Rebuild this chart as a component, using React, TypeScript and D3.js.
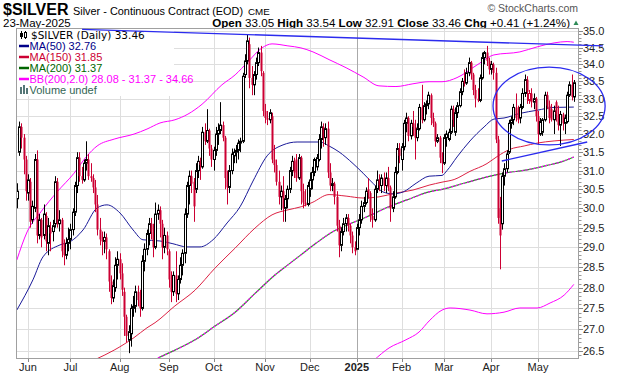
import React from "react";
import * as d3 from "d3";

const SANS = "'Liberation Sans', Arial, Helvetica, sans-serif";
const WIDE = "'DejaVu Sans', Verdana, sans-serif";

// Daily candles: [day, open, high, low, close]
const may2024 = [
  [24, 30.25, 30.66, 30.0, 30.45], [28, 31.5, 32.35, 31.4, 32.2], [29, 32.2, 32.3, 31.6, 31.9],
  [30, 31.9, 32.0, 30.9, 31.3], [31, 31.3, 31.4, 30.2, 30.45],
];
const jun2024 = [
  [3, 30.4, 30.9, 30.2, 30.75], [4, 30.7, 30.8, 29.5, 29.65], [5, 29.7, 30.2, 29.6, 30.05],
  [6, 30.0, 31.45, 29.9, 31.3], [7, 31.3, 31.55, 29.1, 29.3], [10, 29.3, 29.85, 29.2, 29.7],
  [11, 29.7, 29.75, 29.0, 29.25], [12, 29.3, 30.1, 29.2, 29.85], [13, 29.8, 29.9, 28.9, 29.15],
  [14, 29.1, 29.75, 28.8, 29.55], [17, 29.5, 29.65, 28.9, 29.35], [18, 29.4, 29.7, 29.15, 29.55],
  [20, 29.6, 30.85, 29.5, 30.7], [21, 30.7, 30.8, 29.5, 29.6], [24, 29.6, 29.95, 29.4, 29.7],
  [25, 29.7, 29.75, 28.75, 28.9], [26, 28.9, 29.2, 28.55, 28.8], [27, 28.8, 29.25, 28.7, 29.1],
  [28, 29.1, 29.5, 28.9, 29.2],
];
const jul2024 = [
  [1, 29.2, 29.6, 28.95, 29.45], [2, 29.45, 30.0, 29.3, 29.9], [3, 29.9, 30.7, 29.8, 30.6],
  [5, 30.6, 31.5, 30.4, 31.35], [8, 31.35, 31.5, 30.7, 30.85], [9, 30.85, 31.1, 30.65, 30.75],
  [10, 30.75, 31.3, 30.7, 31.2], [11, 31.2, 31.8, 31.0, 31.3], [12, 31.3, 31.45, 30.75, 30.85],
  [15, 30.85, 31.2, 30.7, 30.8], [16, 30.8, 30.9, 30.4, 30.55], [17, 30.55, 30.75, 29.9, 30.1],
  [18, 30.1, 30.35, 29.3, 29.45], [19, 29.45, 29.75, 29.05, 29.2], [22, 29.2, 29.4, 28.8, 29.15],
  [23, 29.15, 29.4, 28.85, 29.25], [24, 29.25, 29.35, 28.7, 28.95], [25, 28.9, 28.95, 27.9, 28.15],
  [26, 28.15, 28.3, 27.6, 27.75], [29, 27.75, 28.2, 27.65, 28.05], [30, 28.0, 28.75, 27.9, 28.55],
  [31, 28.55, 28.9, 28.2, 28.7],
];
const aug2024 = [
  [1, 28.7, 28.85, 28.2, 28.35], [2, 28.35, 28.6, 27.8, 27.95], [5, 27.9, 28.0, 26.85, 27.3],
  [6, 27.3, 27.35, 26.7, 26.85], [7, 26.75, 27.1, 26.45, 26.95], [8, 26.9, 27.6, 26.6, 27.5],
  [9, 27.5, 27.8, 27.3, 27.55], [12, 27.55, 28.05, 27.4, 27.9], [13, 27.9, 28.05, 27.55, 27.7],
  [14, 27.7, 27.95, 27.3, 27.5], [15, 27.5, 28.8, 27.45, 28.65], [16, 28.65, 29.1, 28.4, 28.95],
  [19, 28.95, 29.45, 28.8, 29.35], [20, 29.35, 29.75, 29.05, 29.6], [21, 29.6, 29.75, 29.2, 29.4],
  [22, 29.4, 29.6, 28.75, 29.0], [23, 29.0, 30.15, 28.95, 29.85], [26, 29.85, 30.1, 29.7, 29.95],
  [27, 29.95, 30.05, 29.25, 29.6], [28, 29.6, 29.7, 28.7, 29.0], [29, 29.0, 29.5, 28.85, 29.3],
  [30, 29.3, 29.4, 28.8, 28.95],
];
const sep2024 = [
  [3, 28.9, 28.95, 28.0, 28.2], [4, 28.2, 28.4, 27.65, 27.9], [5, 27.9, 28.4, 27.8, 28.3],
  [6, 28.3, 28.9, 27.65, 27.85], [9, 27.85, 28.3, 27.7, 28.2], [10, 28.2, 28.75, 28.1, 28.55],
  [11, 28.55, 28.95, 28.3, 28.85], [12, 28.85, 30.0, 28.6, 29.85], [13, 29.85, 30.7, 29.75, 30.6],
  [16, 30.6, 31.0, 30.1, 30.85], [17, 30.85, 31.0, 30.4, 30.65], [18, 30.7, 30.8, 29.65, 30.05],
  [19, 30.5, 31.2, 30.4, 31.0], [20, 31.0, 31.4, 30.8, 31.25], [23, 31.25, 31.35, 30.75, 31.15],
  [24, 31.1, 32.2, 31.05, 32.05], [25, 32.05, 32.3, 31.7, 31.8], [26, 31.8, 32.7, 31.75, 32.1],
  [27, 32.1, 32.15, 31.4, 31.6], [30, 31.6, 31.7, 31.1, 31.3],
];
const oct2024 = [
  [1, 31.3, 31.65, 31.0, 31.55], [2, 31.55, 32.2, 31.4, 32.0], [3, 32.0, 32.3, 31.7, 32.1],
  [4, 32.1, 32.9, 32.0, 32.25], [7, 32.25, 32.35, 31.8, 31.9], [8, 31.9, 31.95, 30.5, 30.8],
  [9, 30.8, 31.0, 30.1, 30.55], [10, 30.55, 31.15, 30.4, 31.0], [11, 31.0, 31.6, 30.9, 31.45],
  [14, 31.4, 31.6, 31.2, 31.5], [15, 31.5, 31.7, 31.2, 31.55], [16, 31.55, 31.85, 31.3, 31.75],
  [17, 31.75, 31.9, 31.5, 31.8], [18, 31.8, 33.75, 31.75, 33.65], [21, 33.7, 34.3, 33.6, 34.1],
  [22, 34.1, 34.88, 34.0, 34.7], [23, 34.6, 34.8, 33.3, 33.6], [24, 33.6, 33.95, 33.1, 33.4],
  [25, 33.4, 33.8, 33.1, 33.7], [28, 33.7, 34.2, 33.55, 34.05], [29, 34.05, 34.5, 33.95, 34.35],
  [30, 34.35, 34.55, 33.65, 33.8], [31, 33.75, 33.8, 32.5, 32.65],
];
const nov2024 = [
  [1, 32.65, 32.85, 32.3, 32.45], [4, 32.45, 32.65, 32.25, 32.4], [5, 32.4, 32.7, 32.3, 32.6],
  [6, 32.5, 32.6, 31.2, 31.3], [7, 31.3, 31.7, 30.95, 31.15], [8, 31.15, 31.3, 30.6, 30.7],
  [11, 30.7, 31.0, 30.1, 30.3], [12, 30.3, 30.6, 29.95, 30.45], [13, 30.45, 30.85, 29.65, 30.0],
  [14, 30.0, 30.35, 29.65, 30.25], [15, 30.25, 30.6, 30.0, 30.5], [18, 30.5, 31.1, 30.4, 31.0],
  [19, 31.0, 31.4, 30.85, 31.25], [20, 31.25, 31.35, 30.8, 30.95], [21, 31.3, 31.45, 30.7, 30.8],
  [22, 30.8, 31.45, 30.75, 31.35], [25, 31.35, 31.4, 30.1, 30.45], [26, 30.45, 30.65, 30.0, 30.15],
  [27, 30.15, 30.5, 30.05, 30.1], [29, 30.1, 30.7, 30.05, 30.6],
];
const dec2024 = [
  [2, 30.5, 30.95, 30.3, 30.75], [3, 30.75, 31.1, 30.5, 30.95], [4, 30.95, 31.35, 30.85, 31.3],
  [5, 31.1, 31.45, 31.0, 31.35], [6, 31.3, 32.0, 31.25, 31.85], [9, 31.85, 32.35, 31.6, 32.2],
  [10, 32.2, 32.3, 31.65, 31.9], [11, 31.9, 32.3, 31.7, 32.15], [12, 32.15, 32.35, 30.8, 30.95],
  [13, 30.95, 31.2, 30.45, 30.6], [16, 30.6, 30.8, 30.45, 30.65], [17, 30.65, 30.7, 30.1, 30.3],
  [18, 30.3, 30.45, 29.4, 29.55], [19, 29.55, 29.7, 28.75, 29.05], [20, 29.05, 29.5, 28.9, 29.4],
  [23, 29.4, 29.75, 29.3, 29.6], [24, 29.6, 29.85, 29.4, 29.75], [26, 29.75, 29.85, 29.4, 29.55],
  [27, 29.55, 29.6, 29.1, 29.3], [30, 29.3, 29.4, 28.85, 29.0], [31, 29.0, 29.15, 28.8, 28.9],
];
const jan2025 = [
  [2, 28.95, 29.6, 28.95, 29.5], [3, 29.5, 29.85, 29.3, 29.7], [6, 29.7, 30.2, 29.6, 30.05],
  [7, 30.05, 30.3, 29.9, 30.15], [8, 30.15, 30.55, 30.1, 30.45], [10, 30.5, 30.8, 30.25, 30.4],
  [13, 30.4, 30.45, 29.65, 29.8], [14, 29.8, 30.0, 29.5, 29.7], [15, 29.7, 30.6, 29.65, 30.5],
  [16, 30.5, 31.0, 30.4, 30.75], [17, 30.75, 30.9, 30.45, 30.6], [21, 30.6, 30.9, 30.4, 30.8],
  [22, 30.8, 30.95, 30.45, 30.6], [23, 30.6, 30.95, 30.4, 30.8], [24, 30.8, 31.1, 30.45, 30.55],
  [27, 30.55, 30.6, 29.65, 30.0], [28, 30.0, 30.45, 29.9, 30.3], [29, 30.3, 31.1, 30.25, 30.95],
  [30, 30.95, 31.75, 30.9, 31.6], [31, 31.6, 31.75, 31.2, 31.4],
];
const feb2025 = [
  [3, 31.3, 31.75, 31.0, 31.65], [4, 31.65, 32.4, 31.55, 32.3], [5, 32.3, 32.6, 32.05, 32.45],
  [6, 32.45, 32.5, 31.8, 31.95], [7, 31.95, 32.4, 31.85, 32.3], [10, 32.3, 32.65, 31.95, 32.2],
  [11, 32.2, 32.4, 31.3, 31.9], [12, 31.9, 32.3, 31.8, 32.15], [13, 32.15, 32.85, 32.1, 32.75],
  [14, 32.75, 33.4, 32.3, 32.4], [18, 32.4, 32.9, 32.35, 32.8], [19, 32.8, 32.95, 32.55, 32.85],
  [20, 32.85, 33.2, 32.7, 33.1], [21, 33.1, 33.15, 32.25, 32.45], [24, 32.45, 32.6, 32.2, 32.3],
  [25, 32.3, 32.35, 31.65, 31.8], [26, 31.8, 32.0, 31.75, 31.9], [27, 31.9, 31.95, 31.2, 31.35],
  [28, 31.35, 31.5, 30.93, 31.2],
];
const mar2025 = [
  [3, 31.2, 32.0, 31.15, 31.9], [4, 31.9, 32.1, 31.65, 32.0], [5, 31.85, 32.15, 31.8, 32.05],
  [6, 32.05, 32.8, 32.0, 32.7], [7, 32.7, 32.8, 32.2, 32.4], [10, 32.05, 32.75, 31.95, 32.6],
  [11, 32.6, 32.9, 32.45, 32.8], [12, 32.8, 33.3, 32.75, 33.2], [13, 33.2, 33.6, 33.1, 33.5],
  [14, 33.5, 33.85, 33.35, 33.45], [17, 33.45, 33.9, 33.4, 33.75], [18, 33.75, 34.2, 33.65, 34.05],
  [19, 34.05, 34.1, 33.55, 33.7], [20, 33.7, 33.75, 33.1, 33.25], [21, 33.25, 33.4, 32.75, 33.0],
  [24, 33.0, 33.3, 32.9, 32.95], [25, 32.95, 33.7, 32.9, 33.6], [26, 33.6, 34.35, 33.55, 34.2],
  [27, 34.2, 34.4, 34.0, 34.35], [28, 34.35, 34.55, 33.95, 34.1], [31, 34.1, 34.2, 33.7, 33.85],
];
const apr2025 = [
  [1, 33.85, 34.1, 33.7, 34.0], [2, 34.0, 34.05, 33.55, 33.75], [3, 33.75, 33.9, 31.75, 31.85],
  [4, 31.85, 31.95, 29.6, 29.75], [7, 30.0, 30.3, 28.45, 29.3], [8, 29.6, 30.95, 29.45, 30.85],
  [9, 30.85, 31.2, 30.6, 31.05], [10, 31.05, 31.55, 30.95, 31.45], [11, 31.5, 32.4, 31.45, 32.3],
  [14, 32.3, 32.5, 32.15, 32.4], [15, 32.4, 32.85, 32.25, 32.75], [16, 32.75, 33.15, 32.35, 32.45],
  [17, 32.45, 32.8, 32.3, 32.4], [21, 32.45, 32.85, 32.3, 32.75], [22, 32.75, 33.3, 32.7, 33.15],
  [23, 33.15, 33.7, 33.05, 33.55], [24, 33.55, 33.65, 32.85, 33.2], [25, 32.95, 33.25, 32.85, 33.15],
  [28, 33.15, 33.3, 32.75, 32.9], [29, 32.9, 33.15, 32.7, 33.0], [30, 33.0, 33.05, 32.35, 32.5],
];
const may2025 = [
  [1, 32.5, 32.65, 31.7, 32.0], [2, 32.0, 32.45, 31.95, 32.35], [5, 32.05, 32.45, 31.95, 32.4],
  [6, 32.4, 33.2, 32.35, 33.1], [7, 33.1, 33.2, 32.7, 32.8], [8, 32.8, 32.95, 32.3, 32.45],
  [9, 32.7, 32.85, 32.35, 32.4], [12, 32.4, 32.8, 32.0, 32.65], [13, 32.9, 32.95, 32.35, 32.55],
  [14, 32.55, 32.8, 32.1, 32.25], [15, 32.25, 32.65, 31.67, 32.55], [16, 32.55, 32.6, 32.1, 32.3],
  [19, 32.3, 32.55, 32.0, 32.45], [20, 32.35, 33.2, 32.3, 33.1], [21, 33.1, 33.5, 33.05, 33.4],
  [22, 33.4, 33.7, 32.95, 33.05], [23, 33.05, 33.54, 32.91, 33.46],
];

// Overlays sampled as [trading-day index, value]
const ma50 = [
  [0, 27.46], [7.2, 28.19], [11.7, 28.76], [19.3, 29.06], [23.8, 29.14], [29.6, 29.44], [35.9, 30.01],
  [40.3, 30.09], [46.1, 29.88], [52, 29.44], [56.4, 29.19], [64, 29.16], [69.8, 29.09], [76.1, 29.01],
  [81.9, 29.01], [87.7, 29.19], [94, 29.62], [99.8, 30.04], [105.6, 30.72], [111.9, 31.4], [119, 31.7],
  [125.3, 31.78], [135.5, 31.78], [139.6, 31.67], [144, 31.51], [150.3, 31.19], [154.8, 30.93],
  [159.2, 30.66], [163.7, 30.43], [168.2, 30.38], [172.7, 30.43], [178.5, 30.66], [184.3, 30.85],
  [190.1, 30.87], [192.3, 31.0], [196.8, 31.37], [202.6, 31.81], [208.9, 32.2], [213.3, 32.42],
  [217.8, 32.45], [224.9, 32.58], [232.6, 32.67], [240.2, 32.75], [249, 32.76],
];
const ma150 = [
  [35.3, 26.31], [43.5, 26.52], [52.4, 26.81], [58.2, 27.04], [61.8, 27.16], [70.7, 27.56],
  [79.7, 27.94], [88.6, 28.48], [97.6, 28.98], [106.5, 29.49], [114.1, 29.83], [121.2, 29.96],
  [127.1, 30.04], [132, 30.15], [139.6, 30.36], [147.2, 30.32], [154.8, 30.27], [161.9, 30.3],
  [169.5, 30.4], [177.1, 30.48], [184.3, 30.61], [190.1, 30.69], [195.5, 30.76], [202.6, 30.98],
  [210.2, 31.19], [214.7, 31.38], [220.5, 31.58], [226.8, 31.67], [232.6, 31.75], [240.2, 31.81],
  [249, 31.85],
];
const ma200 = [
  [63.1, 26.34], [70.7, 26.52], [79.7, 26.76], [88.6, 27.08], [97.6, 27.41], [106.5, 27.86],
  [115.4, 28.31], [121.2, 28.56], [127, 28.81], [133.7, 29.1], [141.4, 29.4], [149, 29.6],
  [156.6, 29.78], [165.5, 30.02], [174.4, 30.22], [184.3, 30.43], [190.1, 30.5], [199.9, 30.66],
  [210.2, 30.83], [217.8, 30.93], [228.1, 31.02], [237, 31.14], [244, 31.25], [249, 31.37],
];
const bbUpper = [
  [0, 28.68], [4.6, 29.39], [10.8, 29.91], [18, 30.43], [25.6, 30.93], [31.4, 31.4], [35.9, 31.67],
  [43.5, 31.86], [52.4, 32.0], [58.2, 32.14], [64, 32.31], [70.7, 32.4], [76.5, 32.56], [82.8, 32.84],
  [91.7, 33.4], [97.6, 33.69], [103.4, 34.08], [109.6, 34.49], [114.1, 34.61], [121.2, 34.55],
  [127, 34.49], [132.4, 34.37], [139.6, 34.14], [147.2, 33.9], [154.8, 33.63], [161.9, 33.37],
  [169.5, 33.35], [177.1, 33.43], [184.3, 33.49], [190.1, 33.49], [196.8, 33.61], [205.7, 33.98],
  [213.3, 34.28], [224.9, 34.37], [232.6, 34.52], [240.2, 34.64], [246, 34.68], [249, 34.66],
];
const bbLower = [
  [159.7, 26.29], [166.4, 26.57], [174, 26.76], [179.8, 26.94], [184.3, 27.2], [190.1, 27.46],
  [193.7, 27.51], [202.6, 27.46], [210.2, 27.37], [217.8, 27.41], [224.9, 27.51], [232.6, 27.51],
  [238.4, 27.63], [244.7, 27.82], [249, 28.08],
];

// Drawn annotations (trading-day index, price)
const resistanceLine = [[29.2, 35.05], [262, 34.55]];
const supportLine = [[216.8, 31.26], [255, 31.78]];
const ellipseBox = { i0: 212.9, i1: 263, top: 33.92, bottom: 31.7 };

const yTickValues = [26.5, 27.0, 27.5, 28.0, 28.5, 29.0, 29.5, 30.0, 30.5, 31.0, 31.5, 32.0, 32.5, 33.0, 33.5, 34.0, 34.5, 35.0];
const xTickLabels = ["Jun", "Jul", "Aug", "Sep", "Oct", "Nov", "Dec", "2025", "Feb", "Mar", "Apr", "May"];

const legendRows = [
  { label: "MA(50) 32.76", color: "#000088" },
  { label: "MA(150) 31.85", color: "#CC0033" },
  { label: "MA(200) 31.37", color: "#006600" },
  { label: "BB(200,2.0) 28.08 - 31.37 - 34.66", color: "#FF00FF" },
];

const monthBlocks = [
  { year: 2024, month: 5, rows: may2024 }, { year: 2024, month: 6, rows: jun2024 },
  { year: 2024, month: 7, rows: jul2024 }, { year: 2024, month: 8, rows: aug2024 },
  { year: 2024, month: 9, rows: sep2024 }, { year: 2024, month: 10, rows: oct2024 },
  { year: 2024, month: 11, rows: nov2024 }, { year: 2024, month: 12, rows: dec2024 },
  { year: 2025, month: 1, rows: jan2025 }, { year: 2025, month: 2, rows: feb2025 },
  { year: 2025, month: 3, rows: mar2025 }, { year: 2025, month: 4, rows: apr2025 },
  { year: 2025, month: 5, rows: may2025 },
];

const candles = monthBlocks.flatMap((b) =>
  b.rows.map((r) => ({ month: b.month, year: b.year, day: r[0], o: r[1], h: r[2], l: r[3], c: r[4] }))
);

const PL = 16, PR = 579, PT = 28, PB = 359;
const RED = "#CC0033";

export default function App() {
  const xs = d3.scaleLinear().domain([0, candles.length - 1]).range([16.8, 573.8]);
  const ys = d3.scaleLog().domain([26.5, 35]).range([351, 31]);

  const line = d3
    .line<number[]>()
    .x((d) => xs(d[0]))
    .y((d) => ys(d[1]))
    .curve(d3.curveMonotoneX);

  const monthStarts: number[] = [];
  candles.forEach((c, i) => {
    if (i > 0 && c.month !== candles[i - 1].month) monthStarts.push(i);
  });

  const minorTicks = d3.range(264, 351).map((v) => v / 10);

  const ex0 = xs(ellipseBox.i0), ex1 = xs(ellipseBox.i1);
  const ey0 = ys(ellipseBox.top), ey1 = ys(ellipseBox.bottom);

  return (
    <div style={{ position: "absolute", left: 0, top: 0 }}>
      <svg width={620} height={376} style={{ display: "block", background: "#fff" }}>
        <defs>
          <clipPath id="plotClip">
            <rect x={PL} y={PT} width={PR - PL} height={PB - PT} />
          </clipPath>
        </defs>

        {/* Header */}
        <text x={3} y={15} fontFamily={SANS} fontWeight="bold" fontSize={16} fill="#000">$SILVER</text>
        <text x={73} y={14.5} fontFamily={SANS} fontSize={10.9} fill="#000">Silver - Continuous Contract (EOD)</text>
        <text x={248} y={14.5} fontFamily={SANS} fontSize={9.8} fill="#000">CME</text>
        <text x={578} y={12} textAnchor="end" fontFamily={SANS} fontSize={10.5} fill="#555">© StockCharts.com</text>
        <text x={3} y={26.5} fontFamily={SANS} fontSize={11.5} fill="#000">23-May-2025</text>
        <text x={570} y={26.5} textAnchor="end" fontFamily={SANS} fontSize={11.6} fill="#000">
          <tspan fontWeight="bold">Open</tspan>
          <tspan>{" 33.05 "}</tspan>
          <tspan fontWeight="bold">High</tspan>
          <tspan>{" 33.54 "}</tspan>
          <tspan fontWeight="bold">Low</tspan>
          <tspan>{" 32.91 "}</tspan>
          <tspan fontWeight="bold">Close</tspan>
          <tspan>{" 33.46 "}</tspan>
          <tspan fontWeight="bold">Chg</tspan>
          <tspan>{" +0.41 (+1.24%)"}</tspan>
        </text>
        <path d="M573.5,25 L576,20.5 L578.5,25 Z" fill="#2E8B57" />

        {/* Grid */}
        <rect x={PL} y={PT} width={PR - PL} height={PB - PT} fill="#fff" />
        {yTickValues.map((v) => (
          <line key={"hg" + v} x1={PL} x2={PR} y1={Math.round(ys(v)) + 0.5} y2={Math.round(ys(v)) + 0.5} stroke="#DEDEDE" strokeWidth={1} />
        ))}
        {monthStarts.map((i, k) => (
          <line key={"vg" + i} x1={Math.round(xs(i)) + 0.5} x2={Math.round(xs(i)) + 0.5} y1={PT} y2={PB}
            stroke={xTickLabels[k] === "2025" ? "#AAAAAA" : "#DEDEDE"} strokeWidth={1} />
        ))}

        <g clipPath="url(#plotClip)">
          {/* Bollinger / MAs */}
          <path d={line(bbUpper) || ""} fill="none" stroke="#FF00FF" strokeWidth={1} />
          <path d={line(bbLower) || ""} fill="none" stroke="#FF00FF" strokeWidth={1} />
          <path d={line(ma200) || ""} fill="none" stroke="#229922" strokeWidth={1.2} />
          <path d={line(ma200) || ""} fill="none" stroke="#FF00FF" strokeWidth={1.2} strokeDasharray="2,2" />
          <path d={line(ma150) || ""} fill="none" stroke="#DD2244" strokeWidth={1} />
          <path d={line(ma50) || ""} fill="none" stroke="#1A1A99" strokeWidth={1} />

          {/* Candles */}
          {candles.map((d, i) => {
            const prev = i > 0 ? candles[i - 1].c : d.o;
            const color = d.c >= prev ? "#000" : RED;
            const cx = Math.round(xs(i));
            const yO = ys(d.o), yC = ys(d.c);
            const top = Math.min(yO, yC);
            const bot = Math.max(yO, yC);
            const hollow = d.c > d.o;
            if (hollow) {
              return (
                <g key={i}>
                  <line x1={cx + 0.5} x2={cx + 0.5} y1={ys(d.h)} y2={top} stroke={color} strokeWidth={1} />
                  <line x1={cx + 0.5} x2={cx + 0.5} y1={bot} y2={ys(d.l)} stroke={color} strokeWidth={1} />
                  <rect x={cx - 0.5} y={top} width={2} height={Math.max(1, bot - top)} fill="#fff" stroke={color} strokeWidth={1} />
                </g>
              );
            }
            return (
              <g key={i}>
                <line x1={cx + 0.5} x2={cx + 0.5} y1={ys(d.h)} y2={ys(d.l)} stroke={color} strokeWidth={1} />
                <rect x={cx - 0.5} y={top} width={2} height={Math.max(1, bot - top)} fill={color} />
              </g>
            );
          })}
        </g>

        {/* Legend */}
        <rect x={17} y={29} width={157} height={67} fill="#fff" />
        <g>
          <line x1={21.5} x2={21.5} y1={31} y2={39} stroke="#000" />
          <rect x={20} y={33} width={3} height={4} fill="#000" />
          <line x1={25.5} x2={25.5} y1={31} y2={39} stroke="#000" />
          <rect x={24.5} y={32.5} width={2} height={5} fill="#fff" stroke="#000" />
          <text x={31} y={38.5} fontFamily={WIDE} fontSize={10.5} fill="#000">$SILVER (Daily) 33.46</text>
        </g>
        {legendRows.map((r, k) => (
          <g key={r.label}>
            <line x1={19} x2={29} y1={46 + k * 11} y2={46 + k * 11} stroke={r.color} strokeWidth={2.5} />
            <text x={29.5} y={50 + k * 11} fontFamily={SANS} fontSize={11} fill={r.color}>{r.label}</text>
          </g>
        ))}
        <g>
          <rect x={20} y={87} width={2} height={7} fill="#557777" />
          <rect x={23} y={85} width={2} height={9} fill="#557777" />
          <rect x={26} y={88} width={2} height={6} fill="#557777" />
          <text x={29.5} y={94} fontFamily={SANS} fontSize={11} fill="#336655">Volume undef</text>
        </g>

        {/* Plot border */}
        <rect x={PL + 0.5} y={PT + 0.5} width={PR - PL - 1} height={PB - PT - 1} fill="none" stroke="#A0A0A0" strokeWidth={1} />

        {/* Right axis */}
        {minorTicks.map((v) => (
          ys(v) >= PT && ys(v) <= PB ? (
            <line key={"mt" + v} x1={PR} x2={PR + 2.5} y1={Math.round(ys(v)) + 0.5} y2={Math.round(ys(v)) + 0.5} stroke="#999" strokeWidth={1} />
          ) : null
        ))}
        {yTickValues.map((v) => (
          <g key={"yt" + v}>
            <line x1={PR} x2={PR + 4} y1={Math.round(ys(v)) + 0.5} y2={Math.round(ys(v)) + 0.5} stroke="#888" />
            <text x={583} y={ys(v) + 4} fontFamily={SANS} fontSize={11} fill="#222">{v.toFixed(1)}</text>
          </g>
        ))}

        {/* Bottom axis */}
        {monthStarts.map((i, k) => (
          <g key={"xt" + i}>
            <line x1={Math.round(xs(i)) + 0.5} x2={Math.round(xs(i)) + 0.5} y1={PB} y2={PB + 3} stroke="#888" />
            <text x={xs(i)} y={371} textAnchor="middle" fontFamily={SANS} fontSize={11}
              fontWeight={xTickLabels[k] === "2025" ? "bold" : "normal"} fill="#222">{xTickLabels[k]}</text>
          </g>
        ))}

        {/* Annotations */}
        <line x1={xs(resistanceLine[0][0])} y1={ys(resistanceLine[0][1])} x2={xs(resistanceLine[1][0])} y2={ys(resistanceLine[1][1])}
          stroke="#2B2BEE" strokeWidth={1.4} />
        <line x1={xs(supportLine[0][0])} y1={ys(supportLine[0][1])} x2={xs(supportLine[1][0])} y2={ys(supportLine[1][1])}
          stroke="#2B2BEE" strokeWidth={1.4} />
        <ellipse cx={(ex0 + ex1) / 2} cy={(ey0 + ey1) / 2} rx={(ex1 - ex0) / 2} ry={(ey1 - ey0) / 2}
          fill="none" stroke="#2B2BEE" strokeWidth={1.3} />
      </svg>
    </div>
  );
}
